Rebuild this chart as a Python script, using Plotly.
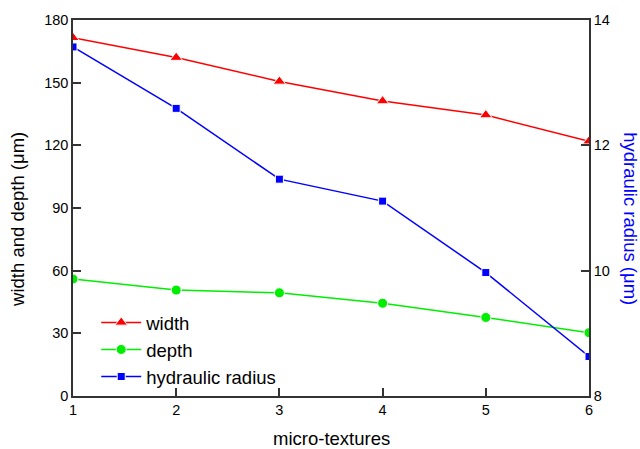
import plotly.graph_objects as go

micro_textures = [1, 2, 3, 4, 5, 6]
width_um = [171.5, 162.0, 150.6, 141.2, 134.5, 122.0]
depth_um = [56.0, 50.7, 49.4, 44.4, 37.6, 30.3]
hydraulic_radius_um = [13.57, 12.59, 11.46, 11.11, 9.97, 8.63]

FONT = "Liberation Sans, Arial, sans-serif"
AX = "#333333"

fig = go.Figure()
fig.add_trace(go.Scatter(
    x=micro_textures, y=width_um, name="width", mode="lines+markers",
    line=dict(color="#FF0000", width=1.5),
    marker=dict(symbol="triangle-up", size=11, color="#FF0000",
                line=dict(color="white", width=1)),
))
fig.add_trace(go.Scatter(
    x=micro_textures, y=depth_um, name="depth", mode="lines+markers",
    line=dict(color="#00EE00", width=1.5),
    marker=dict(symbol="circle", size=10, color="#00EE00",
                line=dict(color="white", width=1)),
))
fig.add_trace(go.Scatter(
    x=micro_textures, y=hydraulic_radius_um, name="hydraulic radius",
    mode="lines+markers", yaxis="y2",
    line=dict(color="#0000FF", width=1.5),
    marker=dict(symbol="square", size=8, color="#0000FF",
                line=dict(color="white", width=1)),
))

fig.update_layout(
    width=640, height=449,
    margin=dict(l=73, r=51, t=16, b=53),
    paper_bgcolor="white", plot_bgcolor="white",
    font=dict(family=FONT, size=14.5, color="black"),
    showlegend=True,
    legend=dict(x=0.045, y=0.245, xanchor="left", yanchor="top",
                bgcolor="rgba(0,0,0,0)", font=dict(size=18.5, family=FONT),
                itemwidth=40, tracegroupgap=0),
    xaxis=dict(range=[1, 6], dtick=1, tick0=1, showgrid=False, zeroline=False,
               showline=True, linecolor=AX, linewidth=1.5, mirror=True,
               ticks="inside", ticklen=8, tickcolor=AX, tickwidth=1.5,
               tickfont=dict(size=14.5)),
    yaxis=dict(range=[0, 180], dtick=30, tick0=0, showgrid=False, zeroline=False,
               showline=True, linecolor=AX, linewidth=1.5,
               ticks="inside", ticklen=8, tickcolor=AX, tickwidth=1.5,
               tickfont=dict(size=14.5)),
    yaxis2=dict(range=[8, 14], dtick=2, tick0=8, overlaying="y", side="right",
                showgrid=False, zeroline=False,
                showline=True, linecolor=AX, linewidth=1.5,
                ticks="inside", ticklen=8, tickcolor=AX, tickwidth=1.5,
                tickfont=dict(size=14.5)),
    annotations=[
        dict(text="micro-textures", x=0.5, y=-0.113, xref="paper", yref="paper",
             showarrow=False, font=dict(size=18.5), xanchor="center", yanchor="middle"),
        dict(text="width and depth (μm)", x=-0.1066, y=0.471, xref="paper", yref="paper",
             showarrow=False, font=dict(size=18.5), textangle=-90,
             xanchor="center", yanchor="middle"),
        dict(text="hydraulic radius (μm)", x=1.079, y=0.471, xref="paper", yref="paper",
             showarrow=False, font=dict(size=18.5, color="#0000FF"), textangle=90,
             xanchor="center", yanchor="middle"),
    ],
)

fig.write_html(
    "out.html",
    config={"displayModeBar": False},
    post_script="document.body.style.margin='0';document.body.style.padding='0';"
                "document.documentElement.style.overflow='hidden';",
)
